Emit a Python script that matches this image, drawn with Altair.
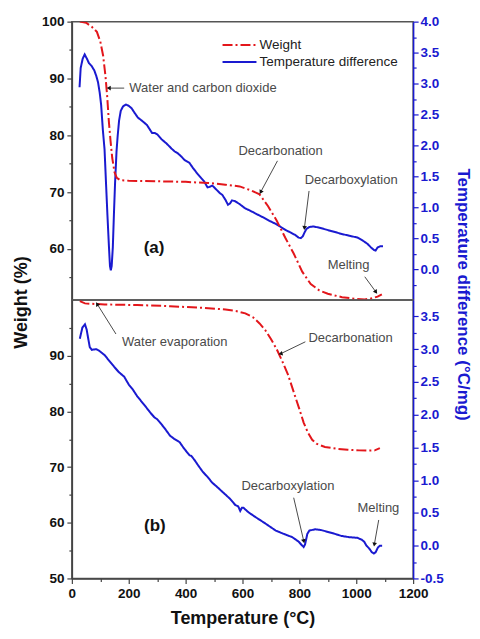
import altair as alt
import pandas as pd

FONT = "Liberation Sans"
RED = "#e3161b"
BLUE = "#1a1ad0"
AX = "#444444"
NOTE = "#4a4a4a"

# ---------------- panel (a) ----------------
a_weight_T = [28, 50, 70, 88, 100, 110, 118, 124, 130, 136, 142, 150, 158, 170, 200, 300, 400, 480,
              540, 590, 630, 660, 690, 720, 750, 780, 810, 840, 870, 900, 950, 1000, 1030, 1055, 1075, 1090]
a_weight = [100.0, 99.8, 99.1, 98.2, 96.5, 94.0, 90.5, 87.0, 82.5, 79.0, 76.0, 73.5, 72.5, 72.1, 72.0,
            71.9, 71.8, 71.6, 71.3, 71.0, 70.3, 69.6, 67.5, 65.0, 62.0, 59.2, 56.0, 53.8, 52.7, 52.1,
            51.5, 51.2, 51.1, 51.3, 51.6, 52.0]
a_diff_T = [27, 31, 38, 45, 53, 60, 70, 79, 86, 92, 98, 103, 109, 115, 120, 125, 130, 134, 137, 140,
            144, 148, 152, 157, 161, 166, 172, 180, 190, 200, 210, 220, 232, 246, 264, 275, 282, 292,
            300, 315, 333, 350, 362, 373, 385, 397, 413, 425, 440, 455, 465, 477, 485, 494, 505, 520,
            529, 540, 549, 556, 563, 573, 590, 610, 625, 645, 671, 695, 717, 735, 752, 770, 786, 797,
            805, 812, 818, 825, 835, 849, 870, 901, 925, 947, 975, 1004, 1020, 1039, 1052, 1062, 1068,
            1075, 1085, 1094]
a_diff = [2.94, 3.25, 3.40, 3.47, 3.40, 3.33, 3.28, 3.21, 3.12, 3.02, 2.85, 2.65, 2.25, 1.93, 1.40,
          0.88, 0.40, 0.05, -0.02, 0.05, 0.35, 0.90, 1.40, 1.90, 2.15, 2.40, 2.56, 2.63, 2.66, 2.64,
          2.60, 2.53, 2.45, 2.40, 2.33, 2.25, 2.20, 2.20, 2.18, 2.10, 2.03, 1.95, 1.90, 1.87, 1.82,
          1.76, 1.72, 1.64, 1.55, 1.47, 1.42, 1.32, 1.33, 1.35, 1.30, 1.23, 1.20, 1.12, 1.04, 1.06,
          1.11, 1.10, 1.05, 0.98, 0.95, 0.90, 0.84, 0.78, 0.73, 0.68, 0.63, 0.59, 0.55, 0.51, 0.50,
          0.53, 0.59, 0.65, 0.68, 0.69, 0.67, 0.63, 0.60, 0.57, 0.54, 0.51, 0.47, 0.41, 0.35, 0.31,
          0.30, 0.35, 0.37, 0.37]

# ---------------- panel (b) ----------------
b_weight_T = [28, 46, 80, 115, 230, 345, 460, 540, 580, 610, 637, 660, 680, 700, 720, 740, 760, 780,
              800, 815, 830, 845, 860, 890, 930, 970, 1010, 1040, 1065, 1083]
b_weight = [99.8, 99.4, 99.3, 99.2, 99.1, 98.9, 98.6, 98.3, 98.0, 97.6, 96.9, 95.8, 94.6, 93.0, 91.2,
            89.0, 86.6, 83.5, 80.4, 78.0, 76.2, 74.9, 74.2, 73.6, 73.3, 73.1, 73.0, 72.95, 73.0, 73.4]
b_diff_T = [28, 37, 46, 52, 58, 63, 70, 85, 95, 115, 130, 149, 165, 184, 200, 215, 230, 245, 260, 276,
            290, 300, 310, 325, 345, 360, 379, 395, 414, 420, 431, 445, 460, 477, 494, 510, 525, 540,
            555, 575, 585, 592, 598, 603, 621, 648, 680, 717, 745, 775, 798, 808, 815, 820, 823, 828,
            835, 855, 875, 901, 925, 947, 975, 1004, 1020, 1028, 1036, 1045, 1055, 1062, 1068, 1076,
            1083, 1091]
b_diff = [3.16, 3.33, 3.38, 3.30, 3.15, 3.03, 2.99, 3.00, 2.98, 2.91, 2.83, 2.73, 2.65, 2.58, 2.46,
          2.38, 2.28, 2.20, 2.12, 2.03, 1.96, 1.93, 1.88, 1.80, 1.68, 1.63, 1.58, 1.48, 1.38, 1.37,
          1.31, 1.22, 1.13, 1.05, 0.96, 0.90, 0.84, 0.78, 0.72, 0.62, 0.60, 0.53, 0.58, 0.58, 0.51,
          0.43, 0.34, 0.23, 0.18, 0.13, 0.06, 0.01, -0.02, 0.02, 0.08, 0.18, 0.23, 0.25, 0.24, 0.21,
          0.18, 0.15, 0.13, 0.12, 0.09, 0.06, 0.00, -0.04, -0.10, -0.12, -0.10, -0.03, 0.00, 0.00]

# ---------------- axes ----------------
x_major = [0, 200, 400, 600, 800, 1000, 1200]
x_minor = [100, 300, 500, 700, 900, 1100]
a_w_domain = [51, 100]
a_w_major = [60, 70, 80, 90, 100]
a_w_minor = [55, 65, 75, 85, 95]
a_d_domain = [-0.5, 4.0]
a_d_major = [0.0, 0.5, 1.0, 1.5, 2.0, 2.5, 3.0, 3.5, 4.0]
a_d_minor = [-0.25, 0.25, 0.75, 1.25, 1.75, 2.25, 2.75, 3.25, 3.75]
b_w_domain = [50, 100]
b_w_major = [50, 60, 70, 80, 90]
b_w_minor = [55, 65, 75, 85, 95]
b_d_domain = [-0.5, 3.75]
b_d_major = [-0.5, 0.0, 0.5, 1.0, 1.5, 2.0, 2.5, 3.0, 3.5]
b_d_minor = [-0.25, 0.25, 0.75, 1.25, 1.75, 2.25, 2.75, 3.25]

# ---------------- annotations (x in °C, y on weight axis) ----------------
a_note_text = ["Water and carbon dioxide", "Decarbonation", "Decarboxylation", "Melting"]
a_note_T = [461, 734, 982, 973]
a_note_W = [88.3, 77.2, 72.2, 57.2]
a_arrow_T1 = [184, 723, 834, 1030]
a_arrow_W1 = [88.3, 75.5, 70.2, 55.1]
a_arrow_T2 = [132, 665, 818, 1068]
a_arrow_W2 = [88.3, 70.1, 63.8, 52.5]
a_arrow_angle = [270, 208, 187, 144]

b_note_text = ["Water evaporation", "Decarbonation", "Decarboxylation", "Melting"]
b_note_T = [362, 980, 760, 1078]
b_note_W = [92.5, 93.2, 66.6, 62.7]
b_arrow_T1 = [155, 821, 780, 1079]
b_arrow_W1 = [93.9, 92.5, 64.5, 60.5]
b_arrow_T2 = [90, 736, 815, 1064]
b_arrow_W2 = [99.2, 90.4, 56.8, 56.2]
b_arrow_angle = [328, 255, 167, 190]

SERIES = ["Weight", "Temperature difference"]
DASHES = [[10, 3, 2, 3], [1, 0]]
NEG = "datum.value < 0 ? '-' + format(-datum.value, '.1f') : format(datum.value, '.1f')"

PW, PH = 342, 279


def build(wT, wV, dT, dV, wdom, wmaj, wmin, ddom, dmaj, dmin,
          nText, nT, nW, aT1, aW1, aT2, aW2, aAng, tag, tagT, tagW, bottom):
    df_w = pd.DataFrame({"T": wT, "v": wV, "series": "Weight"})
    df_d = pd.DataFrame({"T": dT, "v": dV, "series": "Temperature difference"})
    df_n = pd.DataFrame({"T": nT, "W": nW, "text": nText})
    df_a = pd.DataFrame({"T1": aT1, "W1": aW1, "T2": aT2, "W2": aW2, "ang": aAng})
    df_t = pd.DataFrame({"T": [tagT], "W": [tagW], "text": [tag]})

    xs = alt.Scale(domain=[0, 1200], nice=False, zero=False)
    ws = alt.Scale(domain=wdom, nice=False, zero=False)
    ds = alt.Scale(domain=ddom, nice=False, zero=False)

    if bottom:
        x_ax = alt.Axis(values=x_major, format="d", title="Temperature (°C)", orient="bottom",
                        labelFontSize=13.5, labelFontWeight="bold", labelColor="#111",
                        tickSize=5, tickWidth=1.2, tickColor=AX, domainColor=AX, domainWidth=1.5,
                        titleFontSize=18, titleFontWeight="bold", titleColor="#111",
                        titlePadding=10, labelPadding=3, grid=False, labelFlush=False)
        x_ax_min = alt.Axis(values=x_minor, labels=False, domain=False, tickSize=3, tickWidth=1.2,
                            tickColor=AX, title=None, grid=False, orient="bottom")
        legend = None
        w_extra = dict(title="Weight (%)", titleX=-50, titleY=2, titleAngle=270,
                       titleBaseline="middle", titleAlign="center", titleFontSize=18,
                       titleFontWeight="bold", titleColor="#111")
        d_extra = dict(title="Temperature difference (°C/mg)", titleX=49, titleY=-6, titleAngle=90,
                       titleBaseline="middle", titleAlign="center", titleFontSize=17,
                       titleFontWeight="bold", titleColor=BLUE)
    else:
        x_ax = None
        x_ax_min = None
        legend = alt.Legend(title=None, orient="none", legendX=150, legendY=15,
                            symbolType="stroke", symbolSize=1156, symbolStrokeWidth=2,
                            labelFont=FONT, labelFontSize=13.5, labelColor="#222",
                            labelOffset=2, clipHeight=17, rowPadding=0, padding=0)
        w_extra = dict(title=None)
        d_extra = dict(title=None)

    col = alt.Color("series:N", scale=alt.Scale(domain=SERIES, range=[RED, BLUE]), legend=legend)
    dash = alt.StrokeDash("series:N", scale=alt.Scale(domain=SERIES, range=DASHES), legend=legend)

    w_axis = alt.Axis(values=wmaj, format="d", orient="left", labelFontSize=13.5,
                      labelFontWeight="bold", labelColor="#111", tickSize=5, tickWidth=1.2,
                      tickColor=AX, domainColor=AX, domainWidth=1.5, labelPadding=3, grid=False,
                      **w_extra)
    w_axis_min = alt.Axis(values=wmin, labels=False, domain=False, tickSize=3, tickWidth=1.2,
                          tickColor=AX, title=None, grid=False, orient="left")
    d_axis = alt.Axis(values=dmaj, labelExpr=NEG, orient="right", labelFontSize=13.5,
                      labelFontWeight="bold", labelColor=BLUE, tickSize=5, tickWidth=1.2,
                      tickColor=BLUE, domainColor=BLUE, domainWidth=1.5, labelPadding=2, grid=False,
                      **d_extra)
    d_axis_min = alt.Axis(values=dmin, labels=False, domain=False, tickSize=3, tickWidth=1.2,
                          tickColor=BLUE, title=None, grid=False, orient="right")

    blue = alt.Chart(df_d).mark_line(strokeWidth=2, clip=True).encode(
        x=alt.X("T:Q", scale=xs, axis=x_ax), y=alt.Y("v:Q", scale=ds, axis=d_axis),
        color=col, strokeDash=dash)
    blue_min = alt.Chart(df_d).mark_line(opacity=0).encode(
        x=alt.X("T:Q", scale=xs, axis=x_ax_min), y=alt.Y("v:Q", scale=ds, axis=d_axis_min))
    red = alt.Chart(df_w).mark_line(strokeWidth=2, clip=True).encode(
        x=alt.X("T:Q", scale=xs, axis=None), y=alt.Y("v:Q", scale=ws, axis=w_axis),
        color=col, strokeDash=dash)
    red_min = alt.Chart(df_w).mark_line(opacity=0).encode(
        x=alt.X("T:Q", scale=xs, axis=None), y=alt.Y("v:Q", scale=ws, axis=w_axis_min))
    notes = alt.Chart(df_n).mark_text(font=FONT, fontSize=13, color=NOTE).encode(
        x=alt.X("T:Q", scale=xs, axis=None), y=alt.Y("W:Q", scale=ws, axis=None), text="text:N")
    rules = alt.Chart(df_a).mark_rule(color=NOTE, strokeWidth=1).encode(
        x=alt.X("T1:Q", scale=xs, axis=None), x2="T2:Q",
        y=alt.Y("W1:Q", scale=ws, axis=None), y2="W2:Q")
    heads = alt.Chart(df_a).mark_point(shape="triangle", filled=True, size=22, color="#111",
                                       opacity=1).encode(
        x=alt.X("T2:Q", scale=xs, axis=None), y=alt.Y("W2:Q", scale=ws, axis=None),
        angle=alt.Angle("ang:Q", scale=None))
    tagc = alt.Chart(df_t).mark_text(font=FONT, fontSize=17, fontWeight="bold",
                                     color="#111").encode(
        x=alt.X("T:Q", scale=xs, axis=None), y=alt.Y("W:Q", scale=ws, axis=None), text="text:N")

    return alt.layer(blue, blue_min, red, red_min, notes, rules, heads, tagc).resolve_scale(
        y="independent").resolve_axis(x="independent", y="independent").properties(
        width=PW, height=PH)


top = build(a_weight_T, a_weight, a_diff_T, a_diff, a_w_domain, a_w_major, a_w_minor,
            a_d_domain, a_d_major, a_d_minor, a_note_text, a_note_T, a_note_W,
            a_arrow_T1, a_arrow_W1, a_arrow_T2, a_arrow_W2, a_arrow_angle,
            "(a)", 289, 60.1, False)
bottom = build(b_weight_T, b_weight, b_diff_T, b_diff, b_w_domain, b_w_major, b_w_minor,
               b_d_domain, b_d_major, b_d_minor, b_note_text, b_note_T, b_note_W,
               b_arrow_T1, b_arrow_W1, b_arrow_T2, b_arrow_W2, b_arrow_angle,
               "(b)", 292, 59.5, True)

chart = alt.vconcat(top, bottom, spacing=0, bounds="flush").resolve_scale(
    x="independent", color="independent", strokeDash="independent").properties(
    padding={"left": 4, "top": 5, "right": 0, "bottom": 0}, background="white").configure(
    font=FONT).configure_axis(labelFont=FONT, titleFont=FONT, labelOverlap=False).configure_view(
    stroke="#555555", strokeWidth=1.5)

chart.save("out.html", embed_options={"renderer": "svg", "actions": False})
